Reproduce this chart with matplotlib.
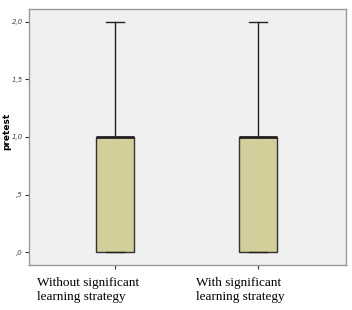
import matplotlib
matplotlib.use("Agg")
import matplotlib.pyplot as plt

groups = ["Without significant\nlearning strategy", "With significant\nlearning strategy"]
mins = [0.0, 0.0]
q1s = [0.0, 0.0]
medians = [1.0, 1.0]
q3s = [1.0, 1.0]
maxs = [2.0, 2.0]
yticks = [0.0, 0.5, 1.0, 1.5, 2.0]
ytick_labels = [",0", ",5", "1,0", "1,5", "2,0"]

W, H = 352, 310
fig = plt.figure(figsize=(W / 100, H / 100), dpi=100)
ax = fig.add_axes([29 / W, 1 - 265 / H, (346 - 29) / W, (265 - 9) / H])
ax.set_facecolor("#F0F0F0")

stats = []
for i in range(len(groups)):
    stats.append(dict(med=medians[i], q1=q1s[i], q3=q3s[i], whislo=mins[i], whishi=maxs[i], fliers=[]))
positions = [1, 2]
ax.bxp(stats, positions=positions, widths=0.26, patch_artist=True, showfliers=False,
       boxprops=dict(facecolor="#D3CE9A", edgecolor="#333333", linewidth=1.0),
       medianprops=dict(color="#222222", linewidth=2.0),
       whiskerprops=dict(color="#222222", linewidth=1.0),
       capprops=dict(color="#222222", linewidth=1.0),
       capwidths=0.13)

ax.set_xlim(0.399, 2.615)
ax.set_ylim(-0.113, 2.113)
ax.set_yticks(yticks)
ax.set_yticklabels(ytick_labels, fontsize=5, color="#444444", family="DejaVu Sans", style="italic")
ax.set_xticks(positions)
ax.set_xticklabels([])
ax.tick_params(axis="both", length=3, width=0.8, color="#333333", pad=1.5)
for s in ax.spines.values():
    s.set_color("#999999")
    s.set_linewidth(1.0)

fig.text(7 / W, 1 - 131 / H, "pretest", rotation=90, ha="center", va="center",
         fontsize=6.5, fontweight="bold", family="DejaVu Sans")

label_x = [37, 196]
for lx, g in zip(label_x, groups):
    fig.text(lx / W, 1 - 277 / H, g, ha="left", va="top", fontsize=9.5,
             family="Liberation Serif", linespacing=1.25)

fig.savefig("out.png", dpi=100, facecolor="white")
